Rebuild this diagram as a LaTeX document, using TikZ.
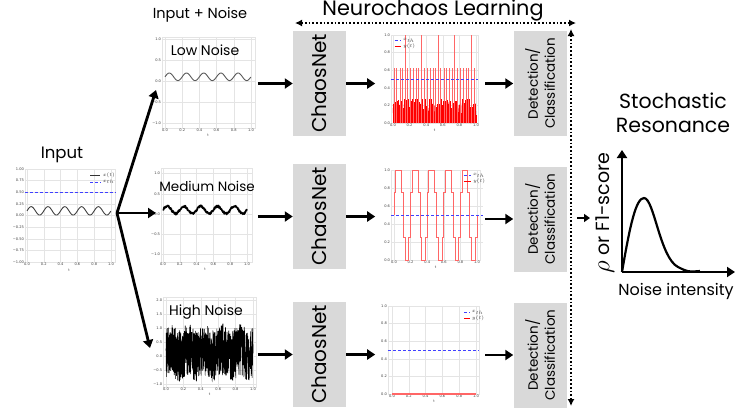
\documentclass[tikz,border=0pt]{standalone}
\usepackage{fontspec}
\setmainfont{Poppins}
\newfontfamily\plotfont{DejaVu Sans}
\usetikzlibrary{arrows.meta}
\definecolor{boxgray}{RGB}{217,217,217}
\definecolor{gridgray}{RGB}{228,228,228}
\tikzset{
  flow/.style={line width=2.8pt, -{Triangle[length=8pt,width=10pt]}},
  dotarrow/.style={line width=1.7pt, dotted, {Latex[length=7pt,width=7pt]}-{Latex[length=7pt,width=7pt]}},
  block/.style={fill=boxgray, minimum width=105pt, minimum height=53pt, inner sep=0pt, align=center, rotate=90},
  plotframe/.style={draw=gridgray, line width=0.6pt, inner sep=0pt},
  gridline/.style={gridgray, line width=0.4pt},
  ticklabel/.style={font=\plotfont\fontsize{3.6}{4}\selectfont, inner sep=0.8pt, text=black!75},
  thr/.style={draw=blue!75, densely dashed, line width=0.9pt},
  outline/.style={draw=red, line width=0.6pt},
  softline/.style={draw=red!60, line width=1pt},
}
\begin{document}
\begin{tikzpicture}[x=1pt,y=-1pt]
\useasboundingbox (0,0) rectangle (735,408);
\pgfmathsetseed{7}

\node[font=\fontsize{16.5}{20}\selectfont] (tin) at (62,155) {Input};
\node[font=\fontsize{14.5}{17}\selectfont] (tnoise) at (200,15) {Input + Noise};
\node[font=\fontsize{20.8}{24}\selectfont] (tnl) at (433,10) {Neurochaos Learning};

\node[plotframe, minimum width=90pt, minimum height=93pt] (in) at (70,215.5) {};
\node[plotframe, minimum width=93pt, minimum height=91pt] (low) at (208.5,82.5) {};
\node[plotframe, minimum width=91pt, minimum height=94pt] (med) at (206.5,215) {};
\node[plotframe, minimum width=93pt, minimum height=90pt] (high) at (209.5,342) {};
\node[plotframe, minimum width=87pt, minimum height=88pt] (out1) at (434.5,79) {};
\node[plotframe, minimum width=89pt, minimum height=90pt] (out2) at (435.5,215) {};
\node[plotframe, minimum width=91pt, minimum height=88pt] (out3) at (433.5,350) {};

\begin{scope}[shift={(27,215.5)}, x=84pt, y=46.5pt]
\foreach \t in {0,0.2,0.4,0.6,0.8,1} \draw[gridline] (\t,-1) -- (\t,1);
\foreach \v in {-0.75,-0.5,-0.25,0,0.25,0.5,0.75} \draw[gridline] (-0.024,\v) -- (1.048,\v);
\foreach \v/\l [count=\i] in {1/1.00,0.75/0.75,0.5/0.50,0.25/0.25,0/0.00,-0.25/−0.25,-0.5/−0.50,-0.75/−0.75,-1/−1.00}
  \node[ticklabel, anchor=east] (iy\i) at (-0.024,\v) {\l};
\foreach \t/\l [count=\i] in {0/0.0,0.2/0.2,0.4/0.4,0.6/0.6,0.8/0.8,1/1.0}
  \node[ticklabel, anchor=north] (ix\i) at (\t,-1) {\l};
\node[ticklabel, anchor=north] (ixt) at (0.5,-1.12) {t};
\draw[thr] (-0.024,0.5) -- (1.048,0.5);
\draw[black!75, line width=0.9pt] plot[domain=0:1, samples=150, smooth] (\x,{0.1+0.09*sin(1800*\x)});
\draw[black!80, line width=0.6pt] (0.75,0.87) -- (0.87,0.87);
\node[ticklabel, anchor=west] (il1) at (0.89,0.87) {$x(t)$};
\draw[thr, line width=0.6pt] (0.75,0.72) -- (0.87,0.72);
\node[ticklabel, anchor=west] (il2) at (0.89,0.72) {$x_{th}$};
\end{scope}

\begin{scope}[shift={(165,81)}, x=86pt, y=42pt]
\foreach \t in {0,0.2,0.4,0.6,0.8,1} \draw[gridline] (\t,-1.12) -- (\t,1.05);
\foreach \v in {-1,-0.5,0,0.5,1} \draw[gridline] (-0.035,\v) -- (1.05,\v);
\foreach \v/\l [count=\i] in {1/1.0,0.5/0.5,0/0.0,-0.5/−0.5,-1/−1.0}
  \node[ticklabel, anchor=east] (ly\i) at (-0.035,\v) {\l};
\foreach \t/\l [count=\i] in {0/0.0,0.2/0.2,0.4/0.4,0.6/0.6,0.8/0.8,1/1.0}
  \node[ticklabel, anchor=north] (lx\i) at (\t,-1.12) {\l};
\node[ticklabel, anchor=north] (lxt) at (0.5,-1.24) {t};
\draw[black!65, line width=0.9pt] plot[domain=0:1, samples=150, smooth] (\x,{0.1+0.09*sin(1800*\x)});
\end{scope}

\begin{scope}[shift={(163,214)}, x=84pt, y=40.5pt]
\foreach \t in {0,0.2,0.4,0.6,0.8,1} \draw[gridline] (\t,-1.185) -- (\t,1.136);
\foreach \v in {-1,-0.5,0,0.5,1} \draw[gridline] (-0.024,\v) -- (1.06,\v);
\foreach \v/\l [count=\i] in {1/1.0,0.5/0.5,0/0.0,-0.5/−0.5,-1/−1.0}
  \node[ticklabel, anchor=east] (my\i) at (-0.024,\v) {\l};
\foreach \t/\l [count=\i] in {0/0.0,0.2/0.2,0.4/0.4,0.6/0.6,0.8/0.8,1/1.0}
  \node[ticklabel, anchor=north] (mx\i) at (\t,-1.185) {\l};
\node[ticklabel, anchor=north] (mxt) at (0.5,-1.3) {t};
\draw[black, line width=1.8pt, line join=round] plot[domain=0:1, samples=220] (\x,{0.1+0.09*sin(1800*\x)+0.025*rand});
\end{scope}

\begin{scope}[shift={(166,356)}, x=87pt, y=28pt]
\foreach \t in {0,0.2,0.4,0.6,0.8,1} \draw[gridline] (\t,-1.1) -- (\t,2.1);
\foreach \v in {-1,-0.5,0,0.5,1,1.5,2} \draw[gridline] (-0.034,\v) -- (1.034,\v);
\foreach \v/\l [count=\i] in {2/2.0,1.5/1.5,1/1.0,0.5/0.5,0/0.0,-0.5/−0.5,-1/−1.0}
  \node[ticklabel, anchor=east] (hy\i) at (-0.034,\v) {\l};
\foreach \t/\l [count=\i] in {0/0.0,0.2/0.2,0.4/0.4,0.6/0.6,0.8/0.8,1/1.0}
  \node[ticklabel, anchor=north] (hx\i) at (\t,-1.1) {\l};
\node[ticklabel, anchor=north] (hxt) at (0.5,-1.28) {t};
\draw[black, line width=0.6pt] plot[domain=0:1, samples=900] (\x,{0.12+0.12*sin(1800*\x)+0.92*rand});
\end{scope}

\node[font=\fontsize{14}{16}\selectfont] (tlow) at (205,50) {Low Noise};
\node[font=\fontsize{13.5}{16}\selectfont] (tmed) at (207,186) {Medium Noise};
\node[font=\fontsize{14}{16}\selectfont] (thigh) at (206,312) {High Noise};

\begin{scope}[shift={(393,123)}, x=83pt, y=88pt]
\foreach \t in {0,0.2,0.4,0.6,0.8,1} \draw[gridline] (\t,0) -- (\t,1);
\foreach \v in {0.2,0.4,0.6,0.8} \draw[gridline] (-0.024,\v) -- (1.024,\v);
\foreach \v/\l [count=\i] in {1/1.0,0.8/0.8,0.6/0.6,0.4/0.4,0.2/0.2,0/0.0}
  \node[ticklabel, anchor=east] (ay\i) at (-0.024,\v) {\l};
\foreach \t/\l [count=\i] in {0/0.0,0.2/0.2,0.4/0.4,0.6/0.6,0.8/0.8,1/1.0}
  \node[ticklabel, anchor=north] (ax\i) at (\t,0) {\l};
\node[ticklabel, anchor=north] (axt) at (0.5,-0.06) {t};
\draw[outline] plot[ycomb, domain=0:1, samples=200] (\x,{0.08+0.2*rnd});
\draw[outline, line width=0.5pt] plot[domain=0:1, samples=200] (\x,{0.22*rnd});
\foreach \k in {0,0.2,0.4,0.6,0.8} {
  \foreach \p in {0.015,0.045,0.085,0.11,0.175}
    \draw[softline, line width=0.8pt] (\k+\p,0) -- (\k+\p,0.62);
  \draw[softline, line width=0.9pt] (\k+0.145,0) -- (\k+0.145,1);
}
\draw[thr] (-0.024,0.5) -- (1.024,0.5);
\draw[thr, line width=0.6pt] (0.02,0.94) -- (0.1,0.94);
\node[ticklabel, anchor=west] (al1) at (0.11,0.94) {$x_{th}$};
\draw[outline] (0.02,0.87) -- (0.1,0.87);
\node[ticklabel, anchor=west] (al2) at (0.11,0.87) {$y(t)$};
\end{scope}

\begin{scope}[shift={(394,260)}, x=83pt, y=90pt]
\foreach \t in {0,0.2,0.4,0.6,0.8,1} \draw[gridline] (\t,0) -- (\t,1);
\foreach \v in {0.2,0.4,0.6,0.8} \draw[gridline] (-0.036,\v) -- (1.07,\v);
\foreach \v/\l [count=\i] in {1/1.0,0.8/0.8,0.6/0.6,0.4/0.4,0.2/0.2,0/0.0}
  \node[ticklabel, anchor=east] (by\i) at (-0.036,\v) {\l};
\foreach \t/\l [count=\i] in {0/0.0,0.2/0.2,0.4/0.4,0.6/0.6,0.8/0.8,1/1.0}
  \node[ticklabel, anchor=north] (bx\i) at (\t,0) {\l};
\node[ticklabel, anchor=north] (bxt) at (0.5,-0.06) {t};
\foreach \k in {0,0.2,0.4,0.6,0.8}
  \draw[softline] (\k,0.5) -- (\k,0.75) -- (\k+0.02,0.75) -- (\k+0.02,1) -- (\k+0.09,1) -- (\k+0.09,0.75)
    -- (\k+0.115,0.75) -- (\k+0.115,0.25) -- (\k+0.135,0.25) -- (\k+0.135,0)
    -- (\k+0.18,0) -- (\k+0.18,0.25) -- (\k+0.2,0.25) -- (\k+0.2,0.5);
\draw[thr] (-0.036,0.5) -- (1.07,0.5);
\draw[thr, line width=0.6pt] (0.84,0.94) -- (0.93,0.94);
\node[ticklabel, anchor=west] (bl1) at (0.94,0.94) {$x_{th}$};
\draw[outline] (0.84,0.87) -- (0.93,0.87);
\node[ticklabel, anchor=west] (bl2) at (0.94,0.87) {$y(t)$};
\end{scope}

\begin{scope}[shift={(392,394)}, x=84pt, y=88pt]
\foreach \t in {0,0.2,0.4,0.6,0.8,1} \draw[gridline] (\t,0) -- (\t,1);
\foreach \v in {0.2,0.4,0.6,0.8} \draw[gridline] (-0.048,\v) -- (1.036,\v);
\foreach \v/\l [count=\i] in {1/1.0,0.8/0.8,0.6/0.6,0.4/0.4,0.2/0.2,0/0.0}
  \node[ticklabel, anchor=east] (cy\i) at (-0.048,\v) {\l};
\foreach \t/\l [count=\i] in {0/0.0,0.2/0.2,0.4/0.4,0.6/0.6,0.8/0.8,1/1.0}
  \node[ticklabel, anchor=north] (cx\i) at (\t,0) {\l};
\node[ticklabel, anchor=north] (cxt) at (0.5,-0.06) {t};
\draw[softline, line width=1.4pt] (0,0) -- (1,0);
\draw[thr] (-0.048,0.5) -- (1.036,0.5);
\draw[thr, line width=0.6pt] (0.86,0.93) -- (0.93,0.93);
\node[ticklabel, anchor=west] (cl1) at (0.94,0.93) {$x_{th}$};
\draw[outline] (0.86,0.86) -- (0.93,0.86);
\node[ticklabel, anchor=west] (cl2) at (0.94,0.86) {$y(t)$};
\end{scope}

\node[block, font=\fontsize{20}{24}\selectfont] (cn1) at (319.5,83.5) {ChaosNet};
\node[block, font=\fontsize{20}{24}\selectfont] (cn2) at (319.5,216.5) {ChaosNet};
\node[block, font=\fontsize{20}{24}\selectfont] (cn3) at (319.5,354.5) {ChaosNet};
\node[block, font=\fontsize{13.5}{17}\selectfont] (det1) at (540,83.5) {Detection/\\Classification};
\node[block, font=\fontsize{13.5}{17}\selectfont] (det2) at (540,219) {Detection/\\Classification};
\node[block, font=\fontsize{13.5}{17}\selectfont] (det3) at (540,355) {Detection/\\Classification};

\coordinate (sp) at (117,213);
\coordinate (a1) at (156,90);
\coordinate (a2) at (156,213);
\coordinate (a3) at (150,348);
\draw[flow] (sp) -- (a1);
\draw[flow] (sp) -- (a2);
\draw[flow] (sp) -- (a3);

\draw[flow] ([xshift=-35pt]cn1.north) -- (cn1.north);
\draw[flow] ([xshift=-35pt]cn2.north) -- (cn2.north);
\draw[flow] ([xshift=-35pt]cn3.north) -- (cn3.north);
\draw[flow] (cn1.south) -- ([xshift=29pt]cn1.south);
\draw[flow] (cn2.south) -- ([xshift=29pt]cn2.south);
\draw[flow] (cn3.south) -- ([xshift=29pt]cn3.south);
\draw[flow] ([xshift=-28pt]det1.north) -- (det1.north);
\draw[flow] ([xshift=-28pt]det2.north) -- (det2.north);
\draw[flow] ([xshift=-28pt]det3.north) -- (det3.north);

\coordinate (h1) at (295,23);
\coordinate (h2) at (576,23);
\coordinate (v1) at (571,29);
\coordinate (v2) at (571,406);
\draw[dotarrow] (h1) -- (h2);
\draw[dotarrow] (v1) -- (v2);
\coordinate (s1) at (577,218);
\coordinate (s2) at (590,218);
\draw[line width=2.2pt, -{Triangle[length=6pt,width=8pt]}] (s1) -- (s2);

\node[font=\fontsize{20.5}{23.5}\selectfont, align=center] (tsr) at (673,113) {Stochastic\\Resonance};
\coordinate (o) at (622,272);
\coordinate (yt) at (622,150);
\coordinate (xt) at (735,272);
\draw[flow, line width=2.4pt] (o) -- (yt);
\draw[flow, line width=2.4pt] (o) -- (xt);
\draw[line width=2.2pt] (o) .. controls (630,225) and (636,198) .. (644,198) .. controls (654,198) and (660,258) .. (678,267) .. controls (688,272) .. (700,271);
\node[rotate=90, font=\fontsize{19}{24}\selectfont] (ylab) at (605,213) {{\fontsize{26}{28}\selectfont$\rho$} or F1-score};
\node[font=\fontsize{16}{19}\selectfont] (xlab) at (676,291) {Noise intensity};
\end{tikzpicture}
\end{document}
